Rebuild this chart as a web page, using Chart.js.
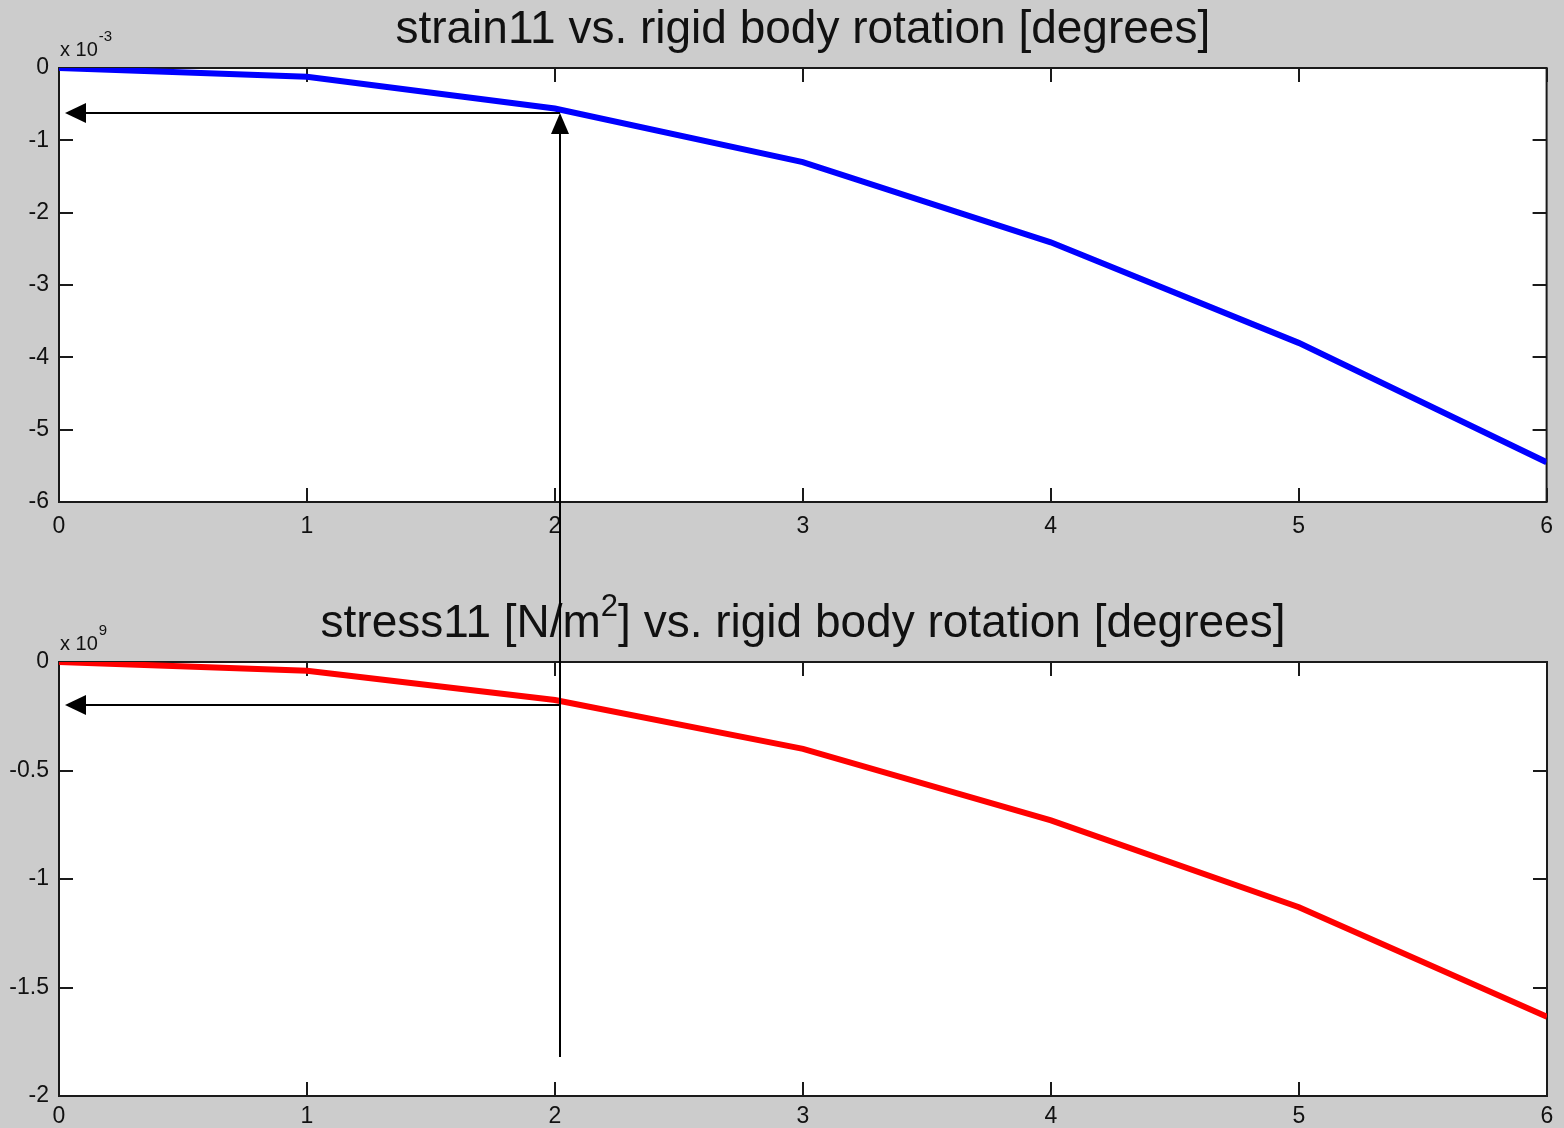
<!DOCTYPE html>
<html>
<head>
<meta charset="utf-8">
<script src="https://cdn.jsdelivr.net/npm/chart.js@4.4.0/dist/chart.umd.min.js"></script>
<style>
  body { margin: 0; background: #cccccc; }
  .panel { position: absolute; left: 0; width: 1564px; }
  #top { top: 0; height: 580px; }
  #bottom { top: 580px; height: 548px; }
</style>
</head>
<body>
<div class="panel" id="top"><canvas id="strainChart"></canvas></div>
<div class="panel" id="bottom"><canvas id="stressChart"></canvas></div>
<script>
const rotation = [0, 1, 2, 3, 4, 5, 6];
const strain11 = [0, -0.12, -0.56, -1.30, -2.41, -3.80, -5.45]; // x 10^-3
const stress11 = [0, -0.04, -0.175, -0.40, -0.73, -1.13, -1.635]; // x 10^9
const xTicks = [0, 1, 2, 3, 4, 5, 6];
const strainTicks = [-6, -5, -4, -3, -2, -1, 0];
const stressTicks = [-2, -1.5, -1, -0.5, 0];

// arrows marking the value read at ~2 degrees
const markRotation = 2.02;
const arrowTipRotation = 0.024;
const markStrain = -0.62;
const markStress = -0.198;
const lineEndStress = -1.82;

const FONT = '"Liberation Sans", Arial, sans-serif';

function arrowHead(ctx, x, y, dir) {
  // dir: 'left' or 'up', tip at x,y
  ctx.beginPath();
  ctx.moveTo(x, y);
  if (dir === 'left') {
    ctx.lineTo(x + 21, y - 10);
    ctx.lineTo(x + 21, y + 10);
  } else {
    ctx.lineTo(x - 9, y + 21);
    ctx.lineTo(x + 9, y + 21);
  }
  ctx.closePath();
  ctx.fill();
}

const matlabAxes = {
  id: 'matlabAxes',
  beforeDraw(chart) {
    const a = chart.chartArea, ctx = chart.ctx;
    ctx.save();
    ctx.fillStyle = '#ffffff';
    ctx.fillRect(a.left, a.top, a.right - a.left, a.bottom - a.top);
    ctx.restore();
  },
  beforeDatasetsDraw(chart) {
    const a = chart.chartArea, ctx = chart.ctx;
    const xs = chart.scales.x, ys = chart.scales.y;
    const tl = 14;
    ctx.save();
    ctx.strokeStyle = '#1a1a1a';
    ctx.lineWidth = 2;
    ctx.strokeRect(a.left, a.top, a.right - a.left, a.bottom - a.top);
    ctx.beginPath();
    xs.ticks.forEach(t => {
      const px = Math.round(xs.getPixelForValue(t.value));
      ctx.moveTo(px, a.bottom); ctx.lineTo(px, a.bottom - tl);
      ctx.moveTo(px, a.top); ctx.lineTo(px, a.top + tl);
    });
    ys.ticks.forEach(t => {
      const py = Math.round(ys.getPixelForValue(t.value));
      ctx.moveTo(a.left, py); ctx.lineTo(a.left + tl, py);
      ctx.moveTo(a.right, py); ctx.lineTo(a.right - tl, py);
    });
    ctx.stroke();
    ctx.restore();
  },
  afterDraw(chart) {
    const o = chart.options.plugins.matlabAxes;
    const a = chart.chartArea, ctx = chart.ctx;
    ctx.save();
    ctx.fillStyle = '#111111';
    ctx.textBaseline = 'alphabetic';
    // title
    const cx = (a.left + a.right) / 2;
    const by = a.top - 25;
    const big = '46px ' + FONT, small = '31px ' + FONT;
    ctx.font = big;
    if (o.titleSup) {
      const w1 = ctx.measureText(o.title[0]).width;
      const w3 = ctx.measureText(o.title[1]).width;
      ctx.font = small;
      const w2 = ctx.measureText(o.titleSup).width;
      const x = cx - (w1 + w2 + w3) / 2;
      ctx.textAlign = 'left';
      ctx.font = big;
      ctx.fillText(o.title[0], x, by);
      ctx.font = small;
      ctx.fillText(o.titleSup, x + w1, by - 21);
      ctx.font = big;
      ctx.fillText(o.title[1], x + w1 + w2, by);
    } else {
      ctx.textAlign = 'center';
      ctx.fillText(o.title, cx, by);
    }
    // exponent label
    ctx.textAlign = 'left';
    ctx.font = '20px ' + FONT;
    ctx.fillText('x 10', a.left + 1, a.top - 12);
    const wb = ctx.measureText('x 10').width;
    ctx.font = '15px ' + FONT;
    ctx.fillText(o.exponent, a.left + 2 + wb, a.top - 27);

    // arrows
    const xs = chart.scales.x, ys = chart.scales.y;
    const mx = Math.round(xs.getPixelForValue(markRotation));
    const my = Math.round(ys.getPixelForValue(o.markValue));
    const tipX = Math.round(xs.getPixelForValue(arrowTipRotation));
    ctx.fillStyle = '#000000';
    ctx.strokeStyle = '#000000';
    ctx.lineWidth = 2;
    ctx.beginPath();
    ctx.moveTo(mx, my);
    ctx.lineTo(tipX + 20, my);
    ctx.stroke();
    arrowHead(ctx, tipX, my, 'left');
    ctx.beginPath();
    if (o.upperPanel) {
      ctx.moveTo(mx, chart.height);
      ctx.lineTo(mx, my + 20);
      ctx.stroke();
      arrowHead(ctx, mx, my, 'up');
    } else {
      ctx.moveTo(mx, 0);
      ctx.lineTo(mx, ys.getPixelForValue(lineEndStress));
      ctx.stroke();
    }
    ctx.restore();
  }
};

function makePanel(id, values, color, yTicks, o) {
  const ctx = document.getElementById(id).getContext('2d');
  return new Chart(ctx, {
    type: 'line',
    data: {
      datasets: [{
        data: rotation.map((r, i) => ({ x: r, y: values[i] })),
        borderColor: color,
        borderWidth: 6,
        pointRadius: 0,
        tension: 0
      }]
    },
    options: {
      responsive: true,
      maintainAspectRatio: false,
      animation: false,
      layout: { padding: { top: o.padTop, right: 17, left: 0, bottom: 0 } },
      plugins: {
        legend: { display: false },
        tooltip: { enabled: false },
        matlabAxes: o
      },
      scales: {
        x: {
          type: 'linear',
          min: 0, max: 6,
          afterBuildTicks: s => { s.ticks = xTicks.map(v => ({ value: v })); },
          afterFit: s => { s.height = o.xHeight; },
          grid: { display: false, drawTicks: false },
          border: { display: false },
          ticks: { font: { size: 23, family: FONT }, color: '#111111', padding: o.xPad, maxRotation: 0, autoSkip: false, callback: v => String(v) }
        },
        y: {
          min: yTicks[0], max: yTicks[yTicks.length - 1],
          afterBuildTicks: s => { s.ticks = yTicks.map(v => ({ value: v })); },
          afterFit: s => { s.width = 59; },
          grid: { display: false, drawTicks: false },
          border: { display: false },
          ticks: { font: { size: 23, family: FONT }, color: '#111111', padding: 10, autoSkip: false, callback: v => String(v) }
        }
      }
    },
    plugins: [matlabAxes]
  });
}

makePanel('strainChart', strain11, '#0000ff', strainTicks, {
  title: 'strain11 vs. rigid body rotation [degrees]',
  exponent: '-3',
  markValue: markStrain,
  upperPanel: true,
  padTop: 68, xHeight: 78, xPad: 11
});

makePanel('stressChart', stress11, '#ff0000', stressTicks, {
  title: ['stress11 [N/m', '] vs. rigid body rotation [degrees]'],
  titleSup: '2',
  exponent: '9',
  markValue: markStress,
  upperPanel: false,
  padTop: 82, xHeight: 32, xPad: 7
});
</script>
</body>
</html>
